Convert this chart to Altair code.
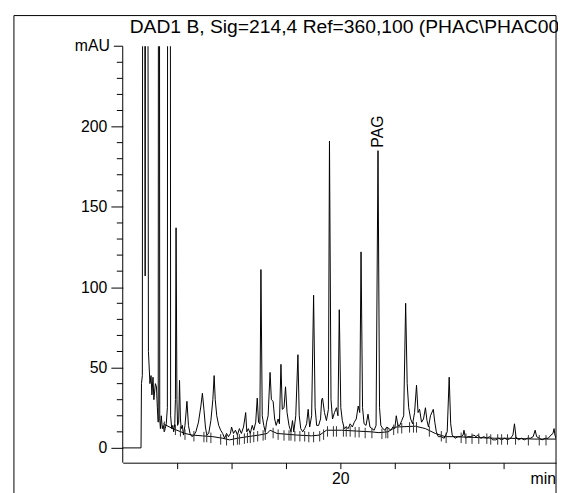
import altair as alt
import pandas as pd

# Signal trace (time in min, absorbance in mAU); off-scale peaks given as 1000
sig_t = [10.00, 10.84, 10.86, 10.90, 10.95, 11.03, 11.09, 11.18, 11.25, 11.30, 11.34, 11.39, 11.43, 11.50,
         11.55, 11.59, 11.63, 11.66, 11.70, 11.73, 11.77, 11.82, 11.86, 11.91, 11.95, 12.00, 12.05, 12.09,
         12.16, 12.20, 12.25, 12.30, 12.34, 12.39, 12.42, 12.45, 12.49, 12.52, 12.57, 12.61, 12.65, 12.69,
         12.74, 12.79, 12.86, 12.95, 13.02, 13.09, 13.18, 13.27, 13.36, 13.48, 13.59, 13.66, 13.73, 13.80,
         13.86, 13.95, 14.05, 14.14, 14.20, 14.25, 14.32, 14.41, 14.50, 14.59, 14.68, 14.77, 14.86, 14.95,
         15.00, 15.09, 15.18, 15.27, 15.36, 15.45, 15.55, 15.65, 15.70, 15.77, 15.86, 15.95, 16.02, 16.11,
         16.18, 16.24, 16.30, 16.35, 16.41, 16.48, 16.55, 16.61, 16.68, 16.77, 16.83, 16.91, 16.98, 17.05,
         17.14, 17.20, 17.27, 17.33, 17.41, 17.48, 17.55, 17.64, 17.73, 17.80, 17.86, 17.95, 18.05, 18.11,
         18.18, 18.27, 18.36, 18.45, 18.52, 18.59, 18.68, 18.77, 18.84, 18.91, 19.00, 19.09, 19.14, 19.18,
         19.27, 19.36, 19.45, 19.50, 19.57, 19.64, 19.73, 19.82, 19.89, 19.95, 20.02, 20.09, 20.18, 20.27,
         20.36, 20.45, 20.55, 20.64, 20.73, 20.82, 20.89, 20.95, 21.02, 21.09, 21.18, 21.27, 21.36, 21.45,
         21.55, 21.64, 21.73, 21.80, 21.86, 21.95, 22.05, 22.14, 22.23, 22.32, 22.41, 22.50, 22.57, 22.64,
         22.73, 22.82, 22.91, 23.00, 23.07, 23.14, 23.23, 23.32, 23.41, 23.50, 23.57, 23.64, 23.73, 23.82,
         23.91, 23.98, 24.05, 24.14, 24.27, 24.34, 24.41, 24.50, 24.64, 24.77, 24.91, 25.00, 25.07, 25.14,
         25.27, 25.41, 25.55, 25.64, 25.68, 25.75, 25.86, 26.00, 26.14, 26.23, 26.32, 26.45, 26.59, 26.73,
         26.86, 27.00, 27.14, 27.27, 27.41, 27.55, 27.68, 27.82, 27.93, 28.00, 28.07, 28.18, 28.32, 28.45,
         28.59, 28.73, 28.86, 28.95, 29.02, 29.14, 29.27, 29.41, 29.55, 29.68, 29.77, 29.82, 29.86, 29.91]
sig_v = [0, 0, 40, 45, 1000, 107, 1000, 60, 40, 45, 33, 44, 30, 40,
         38, 25, 16, 1000, 18, 12, 20, 12, 14, 10, 12, 15, 25, 1000,
         1000, 20, 12, 14, 10, 15, 30, 137, 30, 14, 16, 42, 18, 12,
         14, 8, 14, 29, 14, 9, 7, 8, 10, 16, 26, 34, 24, 13,
         8, 9, 17, 30, 45, 30, 20, 14, 11, 9, 6, 9, 7, 9,
         13, 9, 11, 8, 12, 9, 13, 22, 10, 12, 9, 14, 11, 16,
         31, 16, 15, 111, 20, 14, 10, 16, 20, 47, 30, 29, 18, 14,
         18, 15, 52, 24, 25, 38, 22, 14, 10, 17, 10, 20, 58, 20,
         12, 10, 12, 15, 24, 13, 20, 95, 25, 14, 14, 18, 30, 31,
         22, 17, 24, 191, 30, 18, 22, 25, 20, 86, 25, 17, 12, 13,
         12, 15, 13, 16, 18, 26, 22, 122, 25, 15, 14, 21, 13, 12,
         11, 14, 185, 25, 14, 12, 11, 13, 12, 11, 13, 12, 20, 14,
         14, 17, 20, 90, 40, 25, 18, 15, 22, 39, 22, 24, 16, 18,
         25, 17, 13, 20, 24, 16, 10, 7, 7, 6, 10, 44, 15, 8,
         6, 7, 7, 8, 11, 6, 7, 7, 8, 7, 8, 6, 7, 6,
         7, 5, 5, 6, 5, 6, 5, 6, 8, 15, 7, 5, 6, 5,
         6, 6, 7, 11, 7, 6, 5, 6, 6, 8, 9, 12, 8, 6]

# Integration baseline
base_t = [11.86, 12.30, 12.86, 13.18, 13.66, 14.14, 14.59, 14.91, 15.27, 15.73, 16.27, 16.64, 16.77,
          17.09, 18.00, 18.68, 19.05, 19.36, 20.05, 20.73, 21.41, 21.77, 22.18, 22.55, 23.45, 23.91,
          24.36, 24.82, 25.27, 26.18, 27.09, 27.77, 28.91, 29.91]
base_v = [15, 12, 9, 8, 7.5, 7, 6, 5, 6, 7, 8, 9, 11,
          9, 8, 7.5, 8, 11, 11, 10.5, 10, 9.5, 10, 13, 13.5, 12,
          9, 7, 7, 6.5, 6, 6, 5.5, 5.5]

# Integration event tick marks (time, baseline level)
tick_t = [11.91, 12.42, 12.65, 12.86, 13.27, 13.73, 13.86, 14.05, 14.50, 14.77, 15.09, 15.27, 15.36,
          15.59, 15.73, 15.86, 16.02, 16.20, 16.45, 16.55, 16.91, 17.14, 17.41, 17.64, 17.73, 17.91,
          18.14, 18.36, 18.55, 18.77, 19.05, 19.23, 19.41, 19.68, 19.82, 20.14, 20.27, 20.45, 20.68,
          20.86, 21.14, 21.45, 21.91, 22.09, 22.18, 22.45, 22.64, 22.82, 23.18, 23.36, 23.50, 24.09,
          24.64, 24.86, 25.55, 25.77, 26.05, 26.36, 26.73, 26.91, 27.23, 27.41, 27.68, 28.05, 28.64,
          29.14, 29.45]
tick_v = [14, 12, 11, 9, 8, 7.5, 7.5, 7, 6, 5.5, 5.5, 6, 6,
          6.5, 7, 7, 7.5, 8, 8.5, 9, 10, 9, 8.5, 8.5, 8.5, 8,
          8, 8, 7.5, 7.5, 8, 9, 11, 11, 11, 11, 11, 11, 10.5,
          10.5, 10, 10, 9.5, 10, 10, 12, 13, 13, 13.5, 13.5, 13.5, 11,
          8, 7, 7, 6.5, 6.5, 6.5, 6.5, 6, 6, 6, 6, 6, 5.5,
          5.5, 5.5]

peak_name = ["PAG"]
peak_t = [21.73]
peak_v = [185]

x_ticks = [12.5, 15, 17.5, 20, 22.5, 25, 27.5]
y_major = [0, 50, 100, 150, 200]
y_minor = [v for v in range(10, 250, 10) if v % 50 != 0]
y_top = [250]
y_top_label = ["mAU"]
title_text = "DAD1 B, Sig=214,4 Ref=360,100 (PHAC\\PHAC00"

FONT = "Liberation Sans"
W, H = 438, 421
YMIN, YMAX = -9.2, 250
xs = alt.Scale(domain=[10, 29.91], nice=False, zero=False)
ys = alt.Scale(domain=[YMIN, YMAX], nice=False, zero=False)

sig = pd.DataFrame({"t": sig_t, "v": sig_v})
base = pd.DataFrame({"t": base_t, "v": base_v})
ticks = pd.DataFrame({"t": tick_t, "v": tick_v})
ticks["lo"] = ticks["v"] - 4
ticks["hi"] = ticks["v"] + 2.5
peaks = pd.DataFrame({"name": peak_name, "t": peak_t, "v": peak_v})
minor = pd.DataFrame({"v": y_minor})
top = pd.DataFrame({"v": y_top, "lab": y_top_label})

xaxis = alt.Axis(values=x_ticks, labelExpr="datum.value == 20 ? '20' : ''", title=None, grid=False,
                 tickSize=6, tickColor="black", domainColor="black", labelColor="black",
                 labelFont=FONT, labelFontSize=16, labelPadding=2, labelOverlap=False, labelFlush=False)
yaxis = alt.Axis(values=y_major, title=None, grid=False, domain=False, tickSize=12, tickColor="black",
                 labelColor="black", labelFont=FONT, labelFontSize=16, labelPadding=4,
                 labelOverlap=False, labelFlush=False)


def X(field):
    return alt.X(field, type="quantitative", scale=xs, axis=xaxis)


def Y(field):
    return alt.Y(field, type="quantitative", scale=ys, axis=yaxis)


signal = alt.Chart(sig).mark_line(color="black", strokeWidth=1, clip=True).encode(
    x=X("t"), y=Y("v"), order="t:Q")
baseline = alt.Chart(base).mark_line(color="black", strokeWidth=1, clip=True).encode(
    x=X("t"), y=Y("v"), order="t:Q")
tickmarks = alt.Chart(ticks).mark_rule(color="#333333", strokeWidth=1).encode(
    x=X("t"), y=Y("lo"), y2="hi:Q")
label = alt.Chart(peaks).mark_text(angle=270, align="left", baseline="middle", dx=3,
                                   font=FONT, fontSize=16, color="black").encode(
    x=X("t"), y=Y("v"), text="name:N")

# y axis line (up to the 250 tick), minor ticks, and the "mAU" top tick
yline = alt.Chart(top).mark_rule(color="black", strokeWidth=1).encode(
    x=alt.value(0), y=Y("v"), y2=alt.datum(YMIN))
minor_ticks = alt.Chart(minor).mark_rule(color="black", strokeWidth=1).encode(
    x=alt.value(-6), x2=alt.value(0), y=Y("v"))
top_tick = alt.Chart(top).mark_rule(color="black", strokeWidth=1).encode(
    x=alt.value(-9), x2=alt.value(0), y=Y("v"))
top_label = alt.Chart(top).mark_text(align="right", baseline="middle", font=FONT, fontSize=16,
                                     color="black", dx=-13).encode(
    x=alt.value(0), y=Y("v"), text="lab:N")

FT = -31  # frame top (page y = 13)
frame_src = pd.DataFrame({"a": [0]})
frame_left = alt.Chart(frame_src).mark_rule(color="black").encode(
    x=alt.value(-110), y=alt.value(FT), y2=alt.value(460))
frame_top = alt.Chart(frame_src).mark_rule(color="black").encode(
    x=alt.value(-110), x2=alt.value(W), y=alt.value(FT))
frame_right = alt.Chart(frame_src).mark_rule(color="black").encode(
    x=alt.value(W), y=alt.value(FT), y2=alt.value(460))

title = alt.Chart(frame_src).mark_text(align="left", baseline="alphabetic", font=FONT, fontSize=19.5,
                                       color="black").encode(
    x=alt.value(7), y=alt.value(-13), text=alt.value(title_text))
unit = alt.Chart(frame_src).mark_text(align="right", baseline="middle", font=FONT, fontSize=16,
                                      color="black").encode(
    x=alt.value(W), y=alt.value(H + 17), text=alt.value("min"))

chart = alt.layer(signal, baseline, tickmarks, label, yline, minor_ticks, top_tick, top_label,
                  frame_left, frame_top, frame_right, title, unit).properties(
    width=W, height=H,
    autosize=alt.AutoSizeParams(type="none"),
    padding={"left": 116, "top": 36, "right": 2, "bottom": 28},
).configure_view(stroke=None)

chart.save("out.html", embed_options={"renderer": "svg", "actions": False})
